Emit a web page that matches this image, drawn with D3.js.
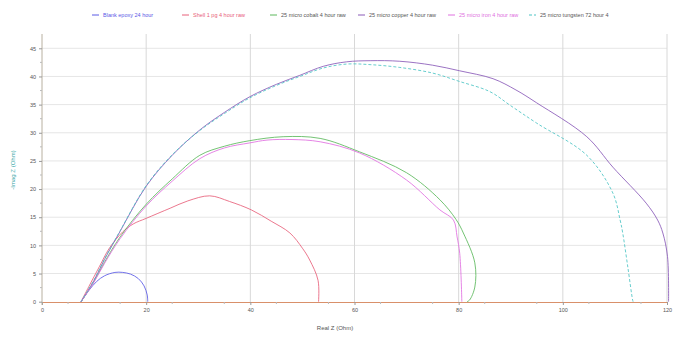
<!DOCTYPE html>
<html>
<head>
<meta charset="utf-8">
<script src="https://cdn.jsdelivr.net/npm/d3@7"></script>
<style>
  body { margin: 0; background: #fff; }
  text { font-family: "Liberation Sans", Arial, sans-serif; }
</style>
</head>
<body>
<div id="chart"></div>
<script>
// impedance points, [real, imag]
let blank = [[7.5,0],[9,2],[10.5,3.6],[12,4.6],[14,5.2],[15.5,5.2],[17,4.9],[18.5,4.1],[19.6,2.8],[20.2,1.2],[20.3,0]];
let shell = [[7.5,0],[9,2.7],[11,6.2],[13,9.6],[15.5,12.4],[17.5,13.8],[20,14.8],[24.6,16.6],[28,17.9],[32.2,18.8],[36,17.8],[40.2,16.3],[44,14.3],[47.6,12.2],[50,9.5],[51.4,7.4],[53,3.8],[53.1,0]];
let cobalt = [[7.5,0],[10,3.6],[12,7],[15,11.5],[20,17.3],[25,21.8],[30.3,26],[35,27.6],[39.9,28.6],[46.3,29.3],[53.4,29],[61,26.6],[70,22.9],[76.4,18.1],[79.5,14.6],[80.9,12.2],[83.1,6.9],[83.1,2.6],[82.1,0.3],[81.6,0]];
let copper = [[7.5,0],[10,3.8],[12,7.5],[15,12.5],[20,20.5],[25,26],[30.3,30.5],[35,33.6],[39.9,36.4],[45,38.6],[49.5,40.2],[54,41.8],[58.5,42.6],[63,42.8],[68.7,42.7],[75,42],[80.2,41],[86.6,39.6],[91,37.6],[95,35.3],[104.6,29.3],[109.6,23.9],[116,17.5],[118.2,14.5],[119.2,12.2],[120.1,8],[120.3,0]];
let iron = [[7.5,0],[10,3.5],[12,6.8],[15,11.2],[20,17],[25,21.4],[30.3,25.4],[35,27.3],[39.9,28.2],[43.2,28.7],[48,28.8],[53.4,28.4],[61,26.4],[70,21.6],[76.4,16.3],[79,14.5],[79.7,11.5],[80.2,8.6],[80.6,0.3],[80.6,0]];
let tungsten = [[7.5,0],[10,3.9],[12,7.6],[15,12.6],[20,20.6],[25,26.1],[30.3,30.4],[35,33.4],[39.9,36.2],[45,38.4],[49.5,40],[54,41.5],[58.5,42.2],[63,42.1],[68.7,41.6],[75,40.6],[80.2,39.1],[86,37.3],[90,34.8],[95,31.7],[104.6,26],[109.6,19.3],[111,14.5],[111.5,12.2],[112.5,6],[113.4,0.3],[113.5,0]];

let seriesNames = ['Blank epoxy 24 hour', 'Shell 1 pg 4 hour raw', '25 micro cobalt 4 hour raw', '25 micro copper 4 hour raw', '25 micro iron 4 hour raw', '25 micro tungsten 72 hour 4'];
let seriesData = [blank, shell, cobalt, copper, iron, tungsten];
let seriesColors = ['#5a5ae6', '#e8607a', '#5cb85c', '#8a5ab8', '#e070e0', '#4cc4c4'];
let seriesDash = [null, null, null, null, null, '3,2'];
let legendX = [92, 182, 270, 358, 448, 529];

let xTicks = [0, 20, 40, 60, 80, 100, 120];
let yTicks = [0, 5, 10, 15, 20, 25, 30, 35, 40, 45];

let width = 681;
let height = 337;

let svg = d3.select('#chart')
  .append('svg')
  .attr('width', width)
  .attr('height', height);

let x = d3.scaleLinear().domain([0, 120]).range([42, 667]);
let y = d3.scaleLinear().domain([0, 45]).range([301.7, 48.3]);

// grid
svg.append('g').selectAll('line')
  .data(yTicks.slice(1))
  .enter()
  .append('line')
  .attr('x1', 42).attr('x2', 667)
  .attr('y1', (d) => y(d)).attr('y2', (d) => y(d))
  .attr('stroke', '#e6e6e6')
  .attr('stroke-width', 1);

svg.append('g').selectAll('line')
  .data(xTicks.slice(1))
  .enter()
  .append('line')
  .attr('x1', (d) => x(d)).attr('x2', (d) => x(d))
  .attr('y1', 34).attr('y2', 302)
  .attr('stroke', '#d8d8d8')
  .attr('stroke-width', 1);

// axes
let xAxis = svg.append('g')
  .attr('transform', 'translate(0,302)')
  .call(d3.axisBottom(x).tickValues(xTicks).tickSize(3).tickFormat(d3.format('d')));
xAxis.select('.domain').attr('stroke', '#d9906a');

let yAxis = svg.append('g')
  .attr('transform', 'translate(42,0)')
  .call(d3.axisLeft(y).tickValues(yTicks).tickSize(3).tickFormat(d3.format('d')));
yAxis.select('.domain').attr('d', 'M0,34V305').attr('stroke', '#b8b0a0');

svg.selectAll('.tick text')
  .attr('font-size', '5.5px')
  .attr('fill', '#555');
svg.selectAll('.tick line').attr('stroke', '#999');

// minor ticks
svg.append('g').selectAll('line')
  .data(d3.range(5, 120, 10))
  .enter()
  .append('line')
  .attr('x1', (d) => x(d)).attr('x2', (d) => x(d))
  .attr('y1', 302).attr('y2', 304)
  .attr('stroke', '#bbb');

svg.append('g').selectAll('line')
  .data(d3.range(2.5, 47, 5))
  .enter()
  .append('line')
  .attr('x1', 40).attr('x2', 42)
  .attr('y1', (d) => y(d)).attr('y2', (d) => y(d))
  .attr('stroke', '#bbb');

// axis titles
svg.append('text')
  .attr('x', 335).attr('y', 330)
  .attr('text-anchor', 'middle')
  .attr('font-size', '6px')
  .attr('fill', '#555')
  .text('Real Z (Ohm)');

svg.append('text')
  .attr('transform', 'translate(15,170) rotate(-90)')
  .attr('text-anchor', 'middle')
  .attr('font-size', '6px')
  .attr('fill', '#3aa8a8')
  .text('-Imag Z (Ohm)');

// curves
let line = d3.line()
  .x((d) => x(d[0]))
  .y((d) => y(d[1]))
  .curve(d3.curveCatmullRom.alpha(0.5));

svg.append('g').selectAll('path')
  .data(seriesData)
  .enter()
  .append('path')
  .attr('d', (d) => line(d))
  .attr('fill', 'none')
  .attr('stroke', (d, i) => seriesColors[i])
  .attr('stroke-dasharray', (d, i) => seriesDash[i])
  .attr('stroke-width', 1)
  .attr('opacity', 0.85);

// legend
let legend = svg.append('g').selectAll('g')
  .data(seriesNames)
  .enter()
  .append('g')
  .attr('transform', (d, i) => 'translate(' + legendX[i] + ',15)');

legend.append('line')
  .attr('x1', 0).attr('x2', 7)
  .attr('y1', 0).attr('y2', 0)
  .attr('stroke', (d, i) => seriesColors[i])
  .attr('stroke-dasharray', (d, i) => seriesDash[i])
  .attr('stroke-width', 1);

legend.append('text')
  .attr('x', 11).attr('y', 2)
  .attr('font-size', '5.5px')
  .attr('fill', (d, i) => i < 2 || i == 4 ? seriesColors[i] : '#555')
  .text((d) => d);
</script>
</body>
</html>
